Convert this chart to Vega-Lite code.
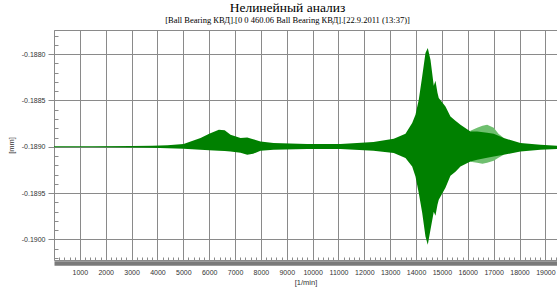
{
  "$schema": "https://vega.github.io/schema/vega-lite/v6.json",
  "width": 503,
  "height": 230,
  "autosize": {"type": "none"},
  "padding": {"left": 54, "top": 30, "right": 0, "bottom": 30},
  "background": "white",
  "config": {
    "view": {"stroke": "#8a8a8a", "strokeWidth": 1},
    "axis": {
      "labelFont": "Liberation Sans",
      "titleFont": "Liberation Sans",
      "labelColor": "#333333",
      "titleColor": "#333333",
      "titleFontWeight": "normal",
      "domainColor": "#8a8a8a",
      "tickColor": "#8a8a8a",
      "gridColor": "#8a8a8a",
      "gridOpacity": 1
    }
  },
  "title": {
    "text": "Нелинейный анализ",
    "subtitle": "[Ball Bearing КВД].[0 0 460.06 Ball Bearing КВД].[22.9.2011 (13:37)]",
    "font": "Liberation Serif",
    "fontSize": 13.5,
    "fontWeight": "normal",
    "color": "#000000",
    "subtitleFont": "Liberation Serif",
    "subtitleFontSize": 8.5,
    "subtitleColor": "#000000",
    "subtitlePadding": 1,
    "anchor": "middle",
    "dx": -18,
    "offset": 6
  },
  "datasets": {
    "env": [
      {"rpm": 0, "hi": -0.1889957, "lo": -0.1890043},
      {"rpm": 1500, "hi": -0.1889946, "lo": -0.1890054},
      {"rpm": 3000, "hi": -0.1889924, "lo": -0.1890076},
      {"rpm": 3800, "hi": -0.1889892, "lo": -0.1890108},
      {"rpm": 4391, "hi": -0.1889838, "lo": -0.1890162},
      {"rpm": 5010, "hi": -0.1889708, "lo": -0.1890216},
      {"rpm": 5667, "hi": -0.188906, "lo": -0.1890324},
      {"rpm": 6000, "hi": -0.1888595, "lo": -0.1890378},
      {"rpm": 6374, "hi": -0.1888162, "lo": -0.1890432},
      {"rpm": 6600, "hi": -0.1888216, "lo": -0.1890465},
      {"rpm": 6826, "hi": -0.1888703, "lo": -0.1890508},
      {"rpm": 7213, "hi": -0.188906, "lo": -0.1890649},
      {"rpm": 7472, "hi": -0.1888995, "lo": -0.1890865},
      {"rpm": 7700, "hi": -0.1889189, "lo": -0.1890757},
      {"rpm": 7986, "hi": -0.1889427, "lo": -0.1890432},
      {"rpm": 8489, "hi": -0.18896, "lo": -0.1890324},
      {"rpm": 9791, "hi": -0.1889708, "lo": -0.1890249},
      {"rpm": 11079, "hi": -0.1889708, "lo": -0.1890249},
      {"rpm": 12354, "hi": -0.1889492, "lo": -0.1890432},
      {"rpm": 13139, "hi": -0.1889135, "lo": -0.1890681},
      {"rpm": 13591, "hi": -0.1888595, "lo": -0.1891222},
      {"rpm": 13850, "hi": -0.1887438, "lo": -0.189213},
      {"rpm": 13978, "hi": -0.1886541, "lo": -0.1893211},
      {"rpm": 14105, "hi": -0.1884919, "lo": -0.1895005},
      {"rpm": 14237, "hi": -0.1882401, "lo": -0.1897135},
      {"rpm": 14364, "hi": -0.1879871, "lo": -0.1899697},
      {"rpm": 14453, "hi": -0.1879331, "lo": -0.1900594},
      {"rpm": 14558, "hi": -0.1880595, "lo": -0.1898972},
      {"rpm": 14685, "hi": -0.1883406, "lo": -0.1897027},
      {"rpm": 14750, "hi": -0.1882865, "lo": -0.1897459},
      {"rpm": 14828, "hi": -0.1884163, "lo": -0.189627},
      {"rpm": 14878, "hi": -0.1884736, "lo": -0.1895729},
      {"rpm": 15137, "hi": -0.1885644, "lo": -0.1894432},
      {"rpm": 15330, "hi": -0.1886725, "lo": -0.1893135},
      {"rpm": 15523, "hi": -0.1887189, "lo": -0.1892703},
      {"rpm": 15717, "hi": -0.1887622, "lo": -0.189213},
      {"rpm": 16103, "hi": -0.1888346, "lo": -0.1891589},
      {"rpm": 16363, "hi": -0.1888346, "lo": -0.1891405},
      {"rpm": 16749, "hi": -0.1888487, "lo": -0.1891189},
      {"rpm": 17004, "hi": -0.1888595, "lo": -0.1891049},
      {"rpm": 17391, "hi": -0.188906, "lo": -0.1890865},
      {"rpm": 18036, "hi": -0.18896, "lo": -0.1890508},
      {"rpm": 18810, "hi": -0.1889784, "lo": -0.1890324},
      {"rpm": 19455, "hi": -0.1889892, "lo": -0.1890249}
    ],
    "light": [
      {"rpm": 16103, "hi": -0.188827, "lo": -0.1891622},
      {"rpm": 16363, "hi": -0.1887946, "lo": -0.189173},
      {"rpm": 16568, "hi": -0.188773, "lo": -0.1891838},
      {"rpm": 16749, "hi": -0.1887622, "lo": -0.189173},
      {"rpm": 17004, "hi": -0.1887946, "lo": -0.1891513},
      {"rpm": 17186, "hi": -0.1888595, "lo": -0.1891189},
      {"rpm": 17391, "hi": -0.188906, "lo": -0.1890865}
    ]
  },
  "layer": [
    {
      "data": {"name": "light"},
      "mark": {"type": "area", "color": "#6fbf6f", "clip": true},
      "encoding": {
        "x": {
          "field": "rpm", "type": "quantitative",
          "scale": {"domain": [0, 19450], "nice": false, "zero": false},
          "axis": {
            "orient": "bottom",
            "title": null, "labels": false, "domain": false, "grid": false,
            "ticks": true, "tickSize": -3, "zindex": 1,
            "values": [200,400,600,800,1200,1400,1600,1800,2200,2400,2600,2800,3200,3400,3600,3800,4200,4400,4600,4800,5200,5400,5600,5800,6200,6400,6600,6800,7200,7400,7600,7800,8200,8400,8600,8800,9200,9400,9600,9800,10200,10400,10600,10800,11200,11400,11600,11800,12200,12400,12600,12800,13200,13400,13600,13800,14200,14400,14600,14800,15200,15400,15600,15800,16200,16400,16600,16800,17200,17400,17600,17800,18200,18400,18600,18800,19200,19400]
          }
        },
        "y": {
          "field": "hi", "type": "quantitative",
          "scale": {"domain": [-0.190224, -0.187738], "nice": false, "zero": false},
          "axis": {
            "orient": "left",
            "title": null, "labels": false, "domain": false, "grid": false,
            "ticks": true, "tickSize": -4, "zindex": 1,
            "values": [-0.1902,-0.1901,-0.1899,-0.1898,-0.1897,-0.1896,-0.1894,-0.1893,-0.1892,-0.1891,-0.1889,-0.1888,-0.1887,-0.1886,-0.1884,-0.1883,-0.1882,-0.1881,-0.1879,-0.1878]
          }
        },
        "y2": {"field": "lo"}
      }
    },
    {
      "data": {"name": "env"},
      "mark": {"type": "area", "color": "#008000", "clip": true},
      "encoding": {
        "x": {
          "field": "rpm", "type": "quantitative",
          "axis": {
            "orient": "bottom",
            "title": "[1/min]", "titleFontSize": 7.5, "titlePadding": 3,
            "format": "d", "labelFontSize": 7, "labelPadding": 5,
            "values": [1000,2000,3000,4000,5000,6000,7000,8000,9000,10000,11000,12000,13000,14000,15000,16000,17000,18000,19000],
            "ticks": false, "tickSize": 0,
            "domain": true, "domainWidth": 4.5, "domainColor": "#7a7a7a", "offset": 3,
            "grid": true, "gridWidth": 1,
            "labelFlush": false, "labelOverlap": false
          }
        },
        "y": {
          "field": "hi", "type": "quantitative",
          "axis": {
            "orient": "left",
            "title": "[mm]", "titleFontSize": 7.5, "titlePadding": 6,
            "labelFontSize": 7, "labelPadding": 3,
            "labelExpr": "replace(datum.label, '\u2212', '-')",
            "format": ".4f",
            "values": [-0.19, -0.1895, -0.189, -0.1885, -0.188],
            "ticks": true, "tickSize": 6,
            "domain": true, "grid": true, "gridWidth": 1,
            "labelFlush": false, "labelOverlap": false
          }
        },
        "y2": {"field": "lo"}
      }
    }
  ],
  "resolve": {"axis": {"x": "independent", "y": "independent"}}
}
